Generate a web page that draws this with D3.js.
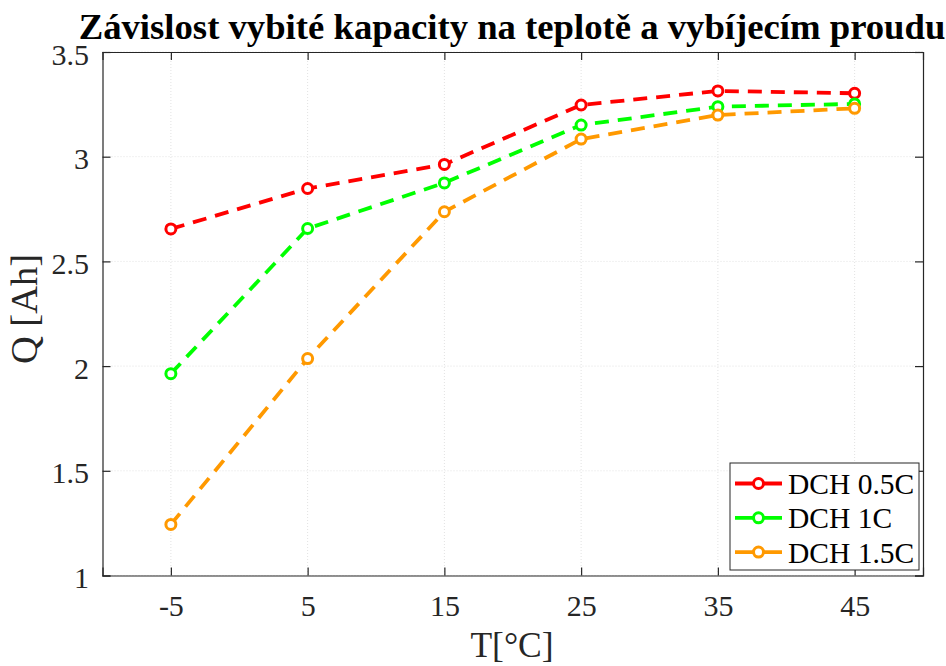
<!DOCTYPE html>
<html><head><meta charset="utf-8">
<script src="https://cdn.jsdelivr.net/npm/d3@7"></script>
<style>body{margin:0;background:#fff;} svg{display:block;}</style>
</head><body>
<script>
const temps = [-5, 5, 15, 25, 35, 45];
const dch05 = [2.655, 2.848, 2.963, 3.247, 3.314, 3.303];
const dch1 = [1.964, 2.657, 2.875, 3.151, 3.239, 3.252];
const dch15 = [1.244, 2.036, 2.737, 3.084, 3.199, 3.231];
const seriesNames = ["DCH 0.5C", "DCH 1C", "DCH 1.5C"];
const seriesColors = ["#ff0000", "#00ff00", "#ff9900"];
const xTicks = [-5, 5, 15, 25, 35, 45];
const yTicks = [1, 1.5, 2, 2.5, 3, 3.5];
const titleText = "Závislost vybité kapacity na teplotě a vybíjecím proudu";
const xLabel = "T[°C]";
const yLabel = "Q [Ah]";

const W = 946, H = 666;
const L = 102.5, R = 923, T = 52, B = 575.5;
const axisColor = "#262626";
const font = "'Liberation Serif', 'Times New Roman', serif";

const svg = d3.select("body").append("svg").attr("width", W).attr("height", H);
const x = d3.scaleLinear().domain([-10, 50]).range([L, R]);
const y = d3.scaleLinear().domain([1, 3.5]).range([B, T]);

// grid
const grid = svg.append("g");
grid.selectAll(".gx").data(xTicks).enter().append("line")
  .attr("x1", d => x(d)).attr("x2", d => x(d)).attr("y1", T).attr("y2", B)
  .attr("stroke", "#e2e2e2").attr("stroke-width", 1).attr("stroke-dasharray", "1,2");
grid.selectAll(".gy").data(yTicks).enter().append("line")
  .attr("x1", L).attr("x2", R).attr("y1", d => y(d)).attr("y2", d => y(d))
  .attr("stroke", "#e2e2e2").attr("stroke-width", 1).attr("stroke-dasharray", "1,2");

// axes
const tickLen = 8;
const xAxisB = d3.axisBottom(x).tickValues(xTicks).tickSize(-tickLen).tickPadding(14).tickFormat(d => String(d).replace("\u2212", "-"));
const yAxisL = d3.axisLeft(y).tickValues(yTicks).tickSize(-tickLen).tickPadding(13.5).tickFormat(d => d);
const gxB = svg.append("g").attr("transform", `translate(0,${B})`).call(xAxisB);
const gyL = svg.append("g").attr("transform", `translate(${L},0)`).call(yAxisL);
const gxT = svg.append("g").attr("transform", `translate(0,${T})`).call(d3.axisTop(x).tickValues(xTicks).tickSize(-tickLen).tickFormat(""));
const gyR = svg.append("g").attr("transform", `translate(${R},0)`).call(d3.axisRight(y).tickValues(yTicks).tickSize(-tickLen).tickFormat(""));
[gxB, gyL, gxT, gyR].forEach(g => {
  g.select(".domain").attr("stroke", axisColor).attr("stroke-width", 1.2);
  g.selectAll(".tick line").attr("stroke", axisColor).attr("stroke-width", 1.2);
  g.selectAll(".tick text").attr("fill", axisColor).style("font-family", font).style("font-size", "30px");
});
gxB.selectAll(".tick text").attr("y", 40.5).attr("dy", 0);
gyL.selectAll(".tick text").attr("dy", "0.4em");

// series
const allSeries = [dch05, dch1, dch15];
const line = d3.line().x((d, i) => x(temps[i])).y(d => y(d));
allSeries.forEach((vals, si) => {
  const g = svg.append("g");
  g.append("path").datum(vals).attr("d", line)
    .attr("fill", "none").attr("stroke", seriesColors[si]).attr("stroke-width", 3.8)
    .attr("stroke-dasharray", "14,9");
  g.selectAll("circle").data(vals).enter().append("circle")
    .attr("cx", (d, i) => x(temps[i])).attr("cy", d => y(d)).attr("r", 5)
    .attr("fill", "#fff").attr("stroke", seriesColors[si]).attr("stroke-width", 3);
});

// legend
const lg = svg.append("g");
const lx0 = 730, ly0 = 463, lw = 189, lh = 107;
lg.append("rect").attr("x", lx0).attr("y", ly0).attr("width", lw).attr("height", lh)
  .attr("fill", "#fff").attr("stroke", axisColor).attr("stroke-width", 1);
seriesNames.forEach((name, i) => {
  const cy = ly0 + 20.5 + i * 34.3;
  lg.append("line").attr("x1", lx0 + 5).attr("x2", lx0 + 52).attr("y1", cy).attr("y2", cy)
    .attr("stroke", seriesColors[i]).attr("stroke-width", 3.8);
  lg.append("circle").attr("cx", lx0 + 28.5).attr("cy", cy).attr("r", 5)
    .attr("fill", "#fff").attr("stroke", seriesColors[i]).attr("stroke-width", 3);
  lg.append("text").attr("x", lx0 + 58).attr("y", cy).attr("dy", "0.36em")
    .attr("fill", "#000").style("font-family", font).style("font-size", "29.5px").text(name);
});

// titles
svg.append("text").attr("x", 512).attr("y", 39).attr("text-anchor", "middle")
  .style("font-family", font).style("font-size", "36.7px").style("font-weight", "bold")
  .attr("fill", "#000").text(titleText);
svg.append("text").attr("x", 512).attr("y", 657).attr("text-anchor", "middle")
  .style("font-family", font).style("font-size", "35.5px").attr("fill", axisColor).text(xLabel);
svg.append("text").attr("transform", `translate(37,309) rotate(-90)`).attr("text-anchor", "middle")
  .style("font-family", font).style("font-size", "38.5px").attr("fill", axisColor).text(yLabel);
</script>
</body></html>
